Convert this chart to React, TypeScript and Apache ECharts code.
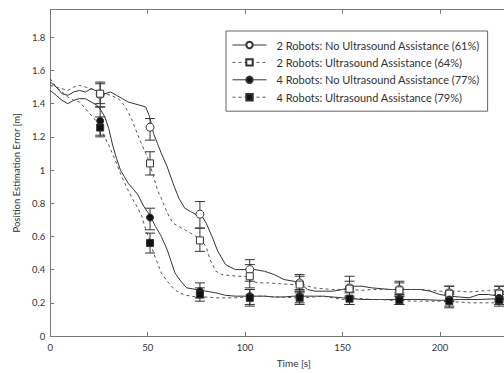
import React, { useEffect, useRef } from "react";
import * as echarts from "echarts";

const seriesNames = [
  "2 Robots: No Ultrasound Assistance (61%)",
  "2 Robots: Ultrasound Assistance (64%)",
  "4 Robots: No Ultrasound Assistance (77%)",
  "4 Robots: Ultrasound Assistance (79%)",
];

// Dense traces [time s, error m]
const traceA: number[][] = [
  [0, 1.53], [3, 1.5], [6, 1.46], [9, 1.45], [12, 1.47], [15, 1.48], [18, 1.47], [21, 1.49], [25, 1.47],
  [28, 1.46], [31, 1.47], [34, 1.45], [37, 1.43], [40, 1.41], [43, 1.4], [46, 1.39], [49, 1.38], [51, 1.32],
  [53, 1.22], [55, 1.16], [57, 1.1], [60, 1.02], [63, 0.92], [66, 0.83], [69, 0.77], [72, 0.75], [75, 0.73],
  [78, 0.72], [80, 0.68], [83, 0.6], [86, 0.51], [90, 0.43], [95, 0.4], [100, 0.4], [105, 0.4], [110, 0.39],
  [115, 0.37], [120, 0.34], [125, 0.33], [128, 0.32], [132, 0.28], [136, 0.27], [140, 0.27], [145, 0.27],
  [150, 0.28], [155, 0.3], [160, 0.3], [165, 0.29], [170, 0.285], [175, 0.28], [180, 0.28], [185, 0.28],
  [190, 0.28], [195, 0.27], [200, 0.25], [205, 0.24], [210, 0.235], [215, 0.23], [220, 0.25], [225, 0.25],
  [230, 0.24], [235, 0.23], [240, 0.23],
];
const traceB: number[][] = [
  [0, 1.51], [3, 1.5], [6, 1.49], [9, 1.48], [12, 1.5], [15, 1.51], [18, 1.5], [21, 1.49], [25, 1.47],
  [28, 1.46], [31, 1.45], [35, 1.43], [38, 1.39], [40, 1.35], [42, 1.3], [44, 1.24], [46, 1.18], [49, 1.1],
  [51, 1.04], [53, 0.96], [55, 0.88], [57, 0.83], [59, 0.77], [61, 0.72], [63, 0.68], [66, 0.66], [69, 0.64],
  [72, 0.62], [75, 0.6], [77, 0.58], [80, 0.54], [82, 0.46], [85, 0.39], [88, 0.37], [92, 0.365], [96, 0.36],
  [100, 0.36], [103, 0.33], [107, 0.32], [112, 0.32], [118, 0.315], [124, 0.31], [130, 0.31], [135, 0.29],
  [140, 0.285], [145, 0.28], [150, 0.28], [155, 0.28], [160, 0.275], [165, 0.28], [170, 0.28], [175, 0.28],
  [180, 0.28], [185, 0.28], [190, 0.28], [195, 0.275], [200, 0.27], [205, 0.27], [210, 0.27], [215, 0.265],
  [220, 0.27], [225, 0.275], [230, 0.28], [235, 0.275], [240, 0.27],
];
const traceC: number[][] = [
  [0, 1.48], [3, 1.45], [6, 1.42], [9, 1.4], [12, 1.42], [15, 1.43], [18, 1.43], [21, 1.41], [24, 1.39],
  [26, 1.36], [28, 1.32], [30, 1.25], [32, 1.15], [34, 1.07], [36, 1.0], [38, 0.96], [40, 0.92], [43, 0.88],
  [45, 0.85], [48, 0.78], [51, 0.73], [54, 0.66], [57, 0.6], [60, 0.52], [62, 0.45], [64, 0.38], [67, 0.33],
  [70, 0.29], [75, 0.28], [80, 0.27], [85, 0.26], [90, 0.245], [95, 0.24], [100, 0.24], [105, 0.24],
  [110, 0.24], [115, 0.235], [120, 0.235], [125, 0.24], [130, 0.24], [135, 0.24], [140, 0.24], [145, 0.235],
  [150, 0.23], [155, 0.225], [160, 0.22], [170, 0.22], [180, 0.22], [190, 0.22], [200, 0.215], [210, 0.22],
  [220, 0.22], [230, 0.225], [240, 0.225],
];
const traceD: number[][] = [
  [0, 1.55], [3, 1.5], [6, 1.47], [9, 1.44], [12, 1.42], [15, 1.41], [18, 1.37], [21, 1.33], [24, 1.29],
  [27, 1.22], [30, 1.15], [33, 1.07], [36, 0.98], [39, 0.9], [42, 0.83], [45, 0.77], [47, 0.72], [49, 0.64],
  [51, 0.58], [53, 0.5], [55, 0.44], [57, 0.38], [60, 0.33], [63, 0.29], [66, 0.26], [70, 0.245], [75, 0.235],
  [80, 0.235], [85, 0.23], [90, 0.23], [95, 0.23], [100, 0.235], [105, 0.24], [110, 0.24], [115, 0.235],
  [120, 0.235], [125, 0.23], [130, 0.23], [135, 0.235], [140, 0.24], [145, 0.23], [150, 0.22], [155, 0.225],
  [160, 0.225], [165, 0.22], [170, 0.22], [175, 0.215], [180, 0.215], [185, 0.21], [190, 0.21], [195, 0.21],
  [200, 0.21], [205, 0.205], [210, 0.205], [215, 0.2], [220, 0.2], [225, 0.2], [230, 0.2], [235, 0.2], [240, 0.2],
];

// Marker times and [mean, low, high]
const markerTimes = [25.6, 51.2, 76.8, 102.4, 128, 153.6, 179.2, 204.8, 230.4];
const statsA: number[][] = [
  [1.456, 1.38, 1.53], [1.258, 1.18, 1.31], [0.734, 0.65, 0.81], [0.4, 0.33, 0.46], [0.32, 0.27, 0.37],
  [0.29, 0.23, 0.36], [0.28, 0.24, 0.33], [0.26, 0.21, 0.3], [0.26, 0.22, 0.3],
];
const statsB: number[][] = [
  [1.46, 1.4, 1.52], [1.04, 0.97, 1.11], [0.576, 0.51, 0.65], [0.36, 0.29, 0.43], [0.31, 0.26, 0.36],
  [0.285, 0.24, 0.33], [0.275, 0.24, 0.32], [0.255, 0.21, 0.3], [0.255, 0.21, 0.3],
];
const statsC: number[][] = [
  [1.296, 1.21, 1.38], [0.714, 0.64, 0.77], [0.27, 0.23, 0.32], [0.24, 0.19, 0.28], [0.24, 0.2, 0.28],
  [0.225, 0.19, 0.27], [0.225, 0.19, 0.26], [0.22, 0.18, 0.26], [0.23, 0.19, 0.27],
];
const statsD: number[][] = [
  [1.256, 1.2, 1.32], [0.56, 0.5, 0.62], [0.25, 0.21, 0.29], [0.23, 0.18, 0.28], [0.23, 0.19, 0.27],
  [0.225, 0.19, 0.26], [0.215, 0.19, 0.25], [0.21, 0.17, 0.25], [0.215, 0.18, 0.25],
];

const yTicks = [0, 0.2, 0.4, 0.6, 0.8, 1, 1.2, 1.4, 1.6, 1.8];

const FONT = "Lato, 'Liberation Sans', sans-serif";
const TXT = "#333";
const AXIS = "#777";

export default function App() {
  const ref = useRef<HTMLDivElement>(null);
  useEffect(() => {
    if (!ref.current) return;
    const chart = echarts.init(ref.current, undefined, { renderer: "svg" });

    const traces = [traceA, traceB, traceC, traceD];
    const stats = [statsA, statsB, statsC, statsD];
    const symbols = ["circle", "rect", "circle", "rect"];
    const filled = [false, false, true, true];
    const dashed = [false, true, false, true];
    const sizes = [8, 7, 7, 7];

    const series: any[] = [];
    traces.forEach((tr, i) => {
      series.push({
        name: seriesNames[i],
        type: "line",
        data: tr,
        showSymbol: false,
        symbol: symbols[i],
        lineStyle: {
          color: dashed[i] ? "#555" : "#333",
          width: 1,
          type: dashed[i] ? [3, 3] : "solid",
        },
        itemStyle: {
          color: filled[i] ? "#111" : "#fff",
          borderColor: "#333",
          borderWidth: 1,
        },
        z: 2,
      });
    });
    stats.forEach((st, i) => {
      series.push({
        name: seriesNames[i] + " err",
        type: "custom",
        data: st.map((s, k) => [markerTimes[k], s[1], s[2]]),
        renderItem: (params: any, api: any) => {
          const x = api.value(0);
          const lo = api.coord([x, api.value(1)]);
          const hi = api.coord([x, api.value(2)]);
          const w = 5;
          const style = { stroke: "#333", lineWidth: 1 };
          return {
            type: "group",
            children: [
              { type: "line", shape: { x1: lo[0], y1: lo[1], x2: hi[0], y2: hi[1] }, style },
              { type: "line", shape: { x1: lo[0] - w, y1: lo[1], x2: lo[0] + w, y2: lo[1] }, style },
              { type: "line", shape: { x1: hi[0] - w, y1: hi[1], x2: hi[0] + w, y2: hi[1] }, style },
            ],
          };
        },
        z: 3,
        silent: true,
      });
      series.push({
        name: seriesNames[i] + " mk",
        type: "scatter",
        data: st.map((s, k) => [markerTimes[k], s[0]]),
        symbol: symbols[i],
        symbolSize: sizes[i],
        itemStyle: {
          color: filled[i] ? "#111" : "#fff",
          borderColor: "#333",
          borderWidth: 1,
          opacity: 1,
        },
        z: 4,
      });
    });

    chart.setOption({
      animation: false,
      textStyle: { fontFamily: FONT },
      grid: { left: 50.3, top: 9.7, right: 22.7, bottom: 32 },
      legend: {
        data: seriesNames,
        orient: "vertical",
        left: 226,
        top: 31,
        padding: [8, 8, 8, 6],
        itemWidth: 34,
        itemHeight: 8,
        itemGap: 5.4,
        backgroundColor: "#fff",
        borderColor: "#666",
        borderWidth: 1,
        lineStyle: { width: 1 },
        textStyle: { fontFamily: FONT, fontSize: 11, color: TXT, lineHeight: 12, padding: [0, 0, 0, 5] },
      },
      xAxis: [
        {
          type: "value",
          min: 0,
          max: 250,
          interval: 50,
          name: "Time [s]",
          nameLocation: "middle",
          nameGap: 22,
          nameTextStyle: { fontFamily: FONT, fontSize: 10, color: TXT },
          axisLine: { show: true, lineStyle: { color: AXIS, width: 1 } },
          axisTick: { show: true, inside: true, length: 4, lineStyle: { color: AXIS } },
          axisLabel: { fontFamily: FONT, fontSize: 9.5, color: TXT, margin: 6, showMaxLabel: false },
          splitLine: { show: false },
        },
        {
          type: "value",
          position: "top",
          min: 0,
          max: 250,
          interval: 50,
          axisLine: { show: true, lineStyle: { color: AXIS, width: 1 } },
          axisTick: { show: true, inside: true, length: 4, lineStyle: { color: AXIS } },
          axisLabel: { show: false },
          splitLine: { show: false },
        },
      ],
      yAxis: {
        type: "value",
        min: 0,
        max: 1.966,
        interval: 0.2,
        name: "Position Estimation Error [m]",
        nameLocation: "middle",
        nameGap: 23,
        nameTextStyle: { fontFamily: FONT, fontSize: 9.5, color: TXT },
        axisLine: { show: true, lineStyle: { color: AXIS, width: 1 } },
        axisTick: { show: true, inside: true, length: 4, lineStyle: { color: AXIS } },
        axisLabel: {
          fontFamily: FONT,
          fontSize: 9.5,
          color: TXT,
          margin: 5,
          showMaxLabel: false,
          formatter: (v: number) => (yTicks.some((t) => Math.abs(t - v) < 1e-6) ? String(Math.round(v * 10) / 10) : ""),
        },
        splitLine: { show: false },
      },
      series,
    });
    return () => chart.dispose();
  }, []);
  return (
    <div style={{ position: "fixed", left: 0, top: 0, width: 504, height: 373, overflow: "hidden", background: "#fff" }}>
      <div ref={ref} style={{ width: 560, height: 373 }} />
    </div>
  );
}
